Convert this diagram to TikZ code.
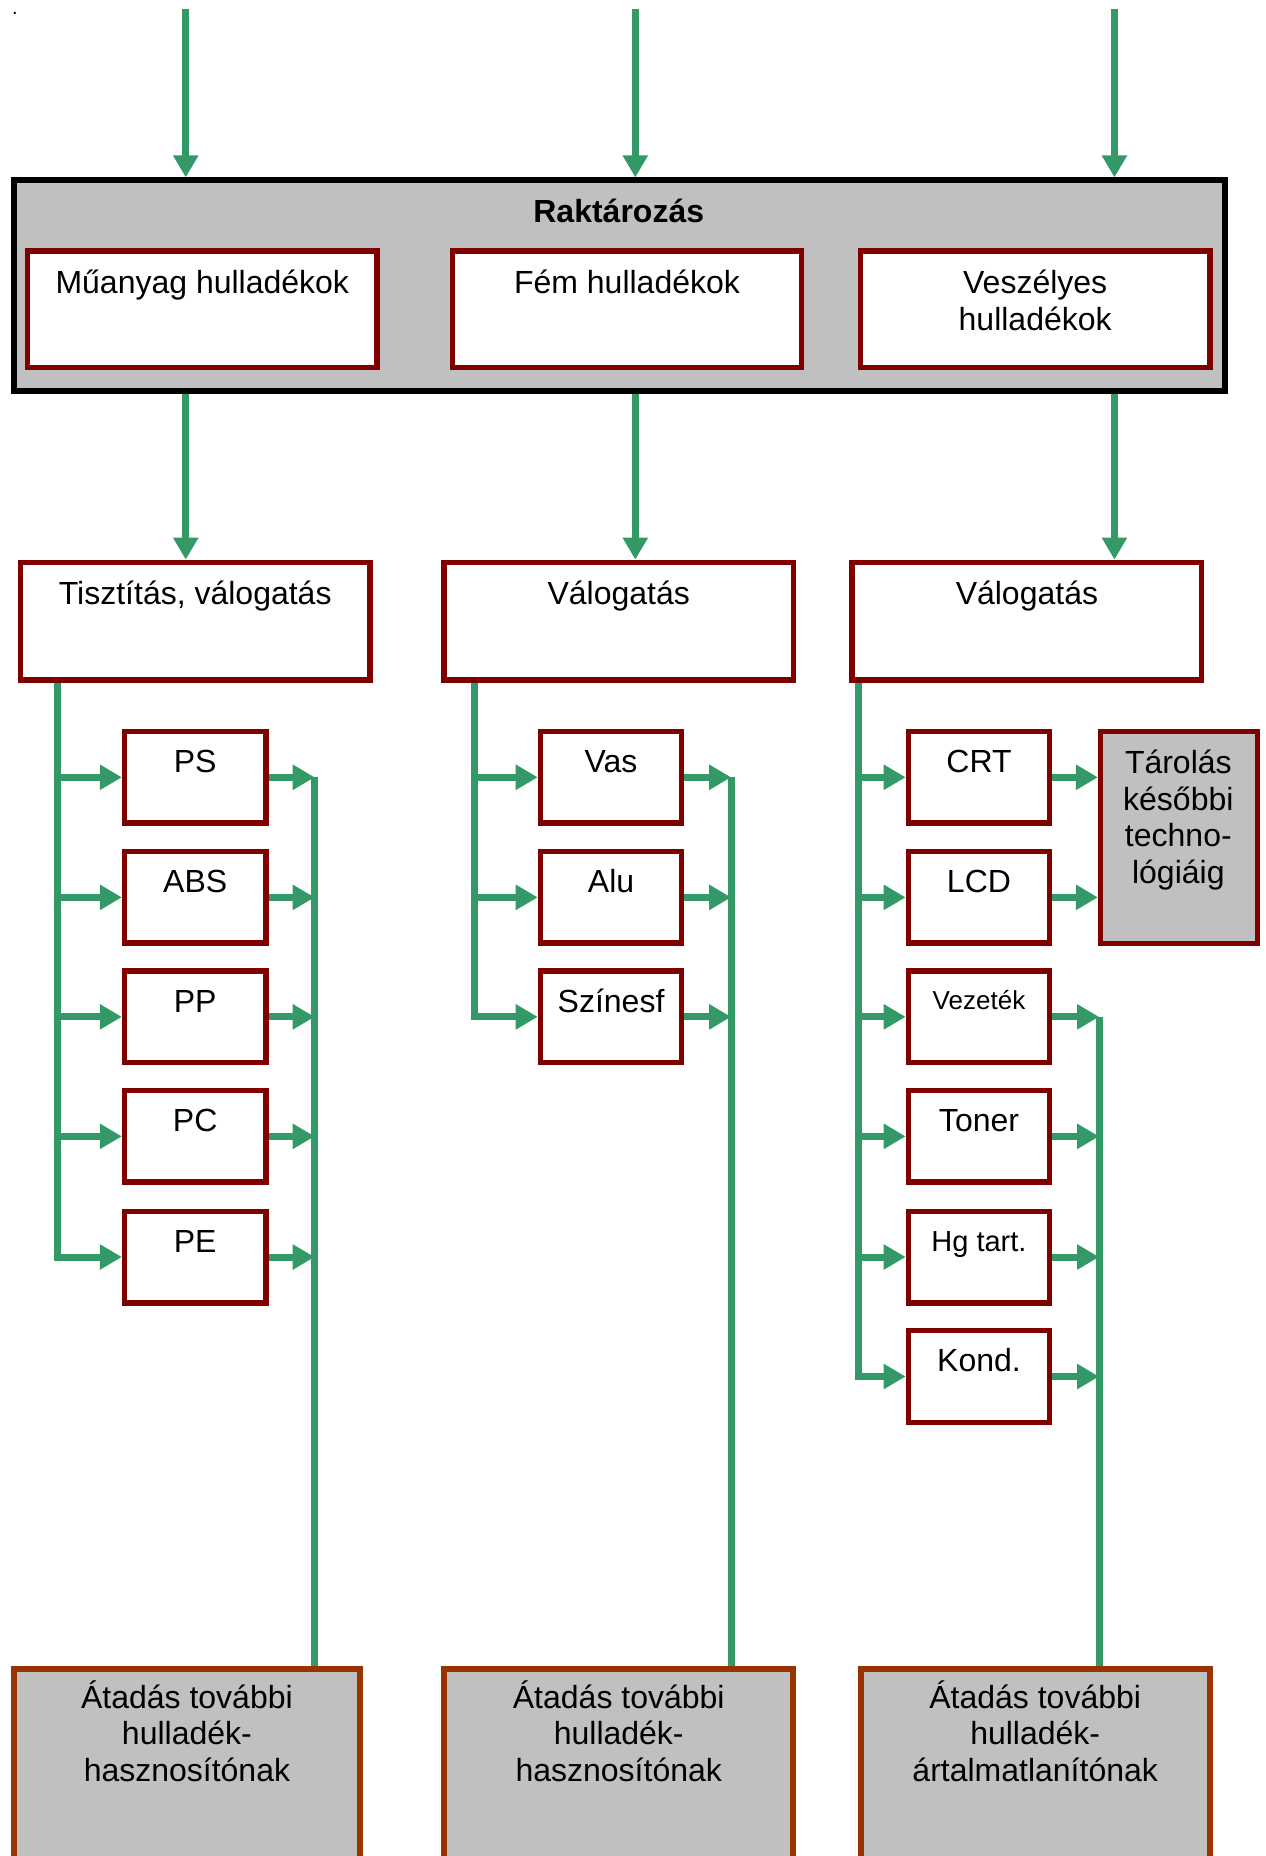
\documentclass[tikz,border=0pt]{standalone}
\usepackage{fontspec}
\setmainfont{Liberation Sans}
\usetikzlibrary{arrows.meta,fit}

% drawing unit
\newdimen\upx \upx=0.59159pt

\definecolor{flowgreen}{HTML}{339966}
\definecolor{boxred}{HTML}{800000}
\definecolor{outbrown}{HTML}{993300}
\definecolor{panelgray}{HTML}{C0C0C0}

\newcommand\bodyfont{\fontsize{16}{18.4}\selectfont}

\tikzset{
  redbox/.style={rectangle, draw=boxred, line width=2.7pt, fill=white, inner sep=0pt},
  graybox/.style={redbox, fill=panelgray},
  panel/.style={rectangle, draw=black, line width=3pt, fill=panelgray, inner sep=0pt},
  outbox/.style={rectangle, draw=outbrown, line width=3pt, fill=panelgray, inner sep=0pt},
  % anchor=base sits on the last line of a multi-line text
  txt/.style={font=\bodyfont, inner sep=0pt, align=center, anchor=base},
  link/.style={draw=flowgreen, line width=3.5pt},
  flow/.style={link, -{Triangle[length=11pt,width=12pt]}},
}

% item box: name, x, y, text
\newcommand\itembox[5][]{%
  \node[redbox, fit={(#3-59.7,#4-38.7) (#3+59.7,#4+38.7)}] (#2) {};
  \node[txt,#1] (#2-t) at (#3,#4-4) {#5};}

\begin{document}
\begin{tikzpicture}[x=\upx, y=-\upx]
\useasboundingbox (0,0) rectangle (1070,1568.8);
\clip (0,0) rectangle (1070,1568.8);

\node[txt, font=\fontsize{10}{12}\selectfont] (dot) at (12.5,12) {.};

% storage panel with the three waste groups
\node[panel, fit={(11.5,152.5) (1035.5,330.5)}] (store) {};
\node[txt, font=\bfseries\bodyfont] (store-t) at (523,188) {Raktározás};

\node[redbox, fit={(23.3,212.3) (318.7,310.7)}] (plast) {};
\node[txt] (plast-t) at (171,248) {Műanyag hulladékok};
\node[redbox, fit={(382.3,212.3) (677.7,310.7)}] (metal) {};
\node[txt] (metal-t) at (530,248) {Fém hulladékok};
\node[redbox, fit={(727.3,212.3) (1022.7,310.7)}] (haz) {};
\node[txt] (haz-t) at (875,279) {Veszélyes\\hulladékok};

% sorting steps
\node[redbox, fit={(17.3,475.3) (312.7,574.7)}] (sortA) {};
\node[txt] (sortA-t) at (165,511) {Tisztítás, válogatás};
\node[redbox, fit={(375.3,475.3) (670.7,574.7)}] (sortB) {};
\node[txt] (sortB-t) at (523,511) {Válogatás};
\node[redbox, fit={(720.3,475.3) (1015.7,574.7)}] (sortC) {};
\node[txt] (sortC-t) at (868,511) {Válogatás};

% fractions
\itembox{ps}{165}{657}{PS}
\itembox{abs}{165}{758.5}{ABS}
\itembox{pp}{165}{859.5}{PP}
\itembox{pc}{165}{960.5}{PC}
\itembox{pe}{165}{1062.5}{PE}

\itembox{vas}{516.5}{657}{Vas}
\itembox{alu}{516.5}{758.5}{Alu}
\itembox{szin}{516.5}{859.5}{Színesf}

\itembox{crt}{827.5}{657}{CRT}
\itembox{lcd}{827.5}{758.5}{LCD}
\itembox[font=\fontsize{13}{15}\selectfont, yshift=1.5pt]{wire}{827.5}{859.5}{Vezeték}
\itembox{toner}{827.5}{960.5}{Toner}
\itembox[font=\fontsize{14.5}{16.5}\selectfont, yshift=0.6pt]{hg}{827.5}{1062.5}{Hg tart.}
\itembox{kond}{827.5}{1163.5}{Kond.}

\node[graybox, fit={(930.3,618.3) (1062.7,797.7)}] (later) {};
\node[txt] (later-t) at (996,747) {Tárolás\\későbbi\\techno-\\lógiáig};

% hand-over boxes
\node[outbox, fit={(11.5,1410.5) (304.5,1640)}] (out1) {};
\node[txt] (out1-t) at (158,1506) {Átadás további\\hulladék-\\hasznosítónak};
\node[outbox, fit={(375.5,1410.5) (670.5,1640)}] (out2) {};
\node[txt] (out2-t) at (523,1506) {Átadás további\\hulladék-\\hasznosítónak};
\node[outbox, fit={(727.5,1410.5) (1022.5,1640)}] (out3) {};
\node[txt] (out3-t) at (875,1506) {Átadás további\\hulladék-\\ártalmatlanítónak};

% incoming flows
\coordinate (in1) at (157,8);
\coordinate (in2) at (537,8);
\coordinate (in3) at (942,8);
\foreach \i/\s in {in1/sortA, in2/sortB, in3/sortC} {
  \draw[flow] (\i) -- (\i |- store.north);
  \draw[flow] (store.south -| \i) -- (\s.north -| \i);
}

% distribution trunks and collectors
\coordinate (t1) at (49,0);
\coordinate (t2) at (401,0);
\coordinate (t3) at (726,0);
\coordinate (k1) at (266,0);
\coordinate (k2) at (618,0);
\coordinate (k3) at (929,0);

\foreach \b in {ps,abs,pp,pc} \draw[flow] (t1 |- \b.west) -- (\b.west);
\draw[flow] (sortA.south -| t1) |- (pe.west);
\foreach \b in {ps,abs,pp,pc,pe} \draw[flow] (\b.east) -- (k1 |- \b.east);
\draw[link] (k1 |- ps.east) -- (k1 |- out1.north);

\foreach \b in {vas,alu} \draw[flow] (t2 |- \b.west) -- (\b.west);
\draw[flow] (sortB.south -| t2) |- (szin.west);
\foreach \b in {vas,alu,szin} \draw[flow] (\b.east) -- (k2 |- \b.east);
\draw[link] (k2 |- vas.east) -- (k2 |- out2.north);

\foreach \b in {crt,lcd,wire,toner,hg} \draw[flow] (t3 |- \b.west) -- (\b.west);
\draw[flow] (sortC.south -| t3) |- (kond.west);
\foreach \b in {crt,lcd} \draw[flow] (\b.east) -- (\b.east -| later.west);
\foreach \b in {wire,toner,hg,kond} \draw[flow] (\b.east) -- (k3 |- \b.east);
\draw[link] (k3 |- wire.east) -- (k3 |- out3.north);
\end{tikzpicture}
\end{document}
